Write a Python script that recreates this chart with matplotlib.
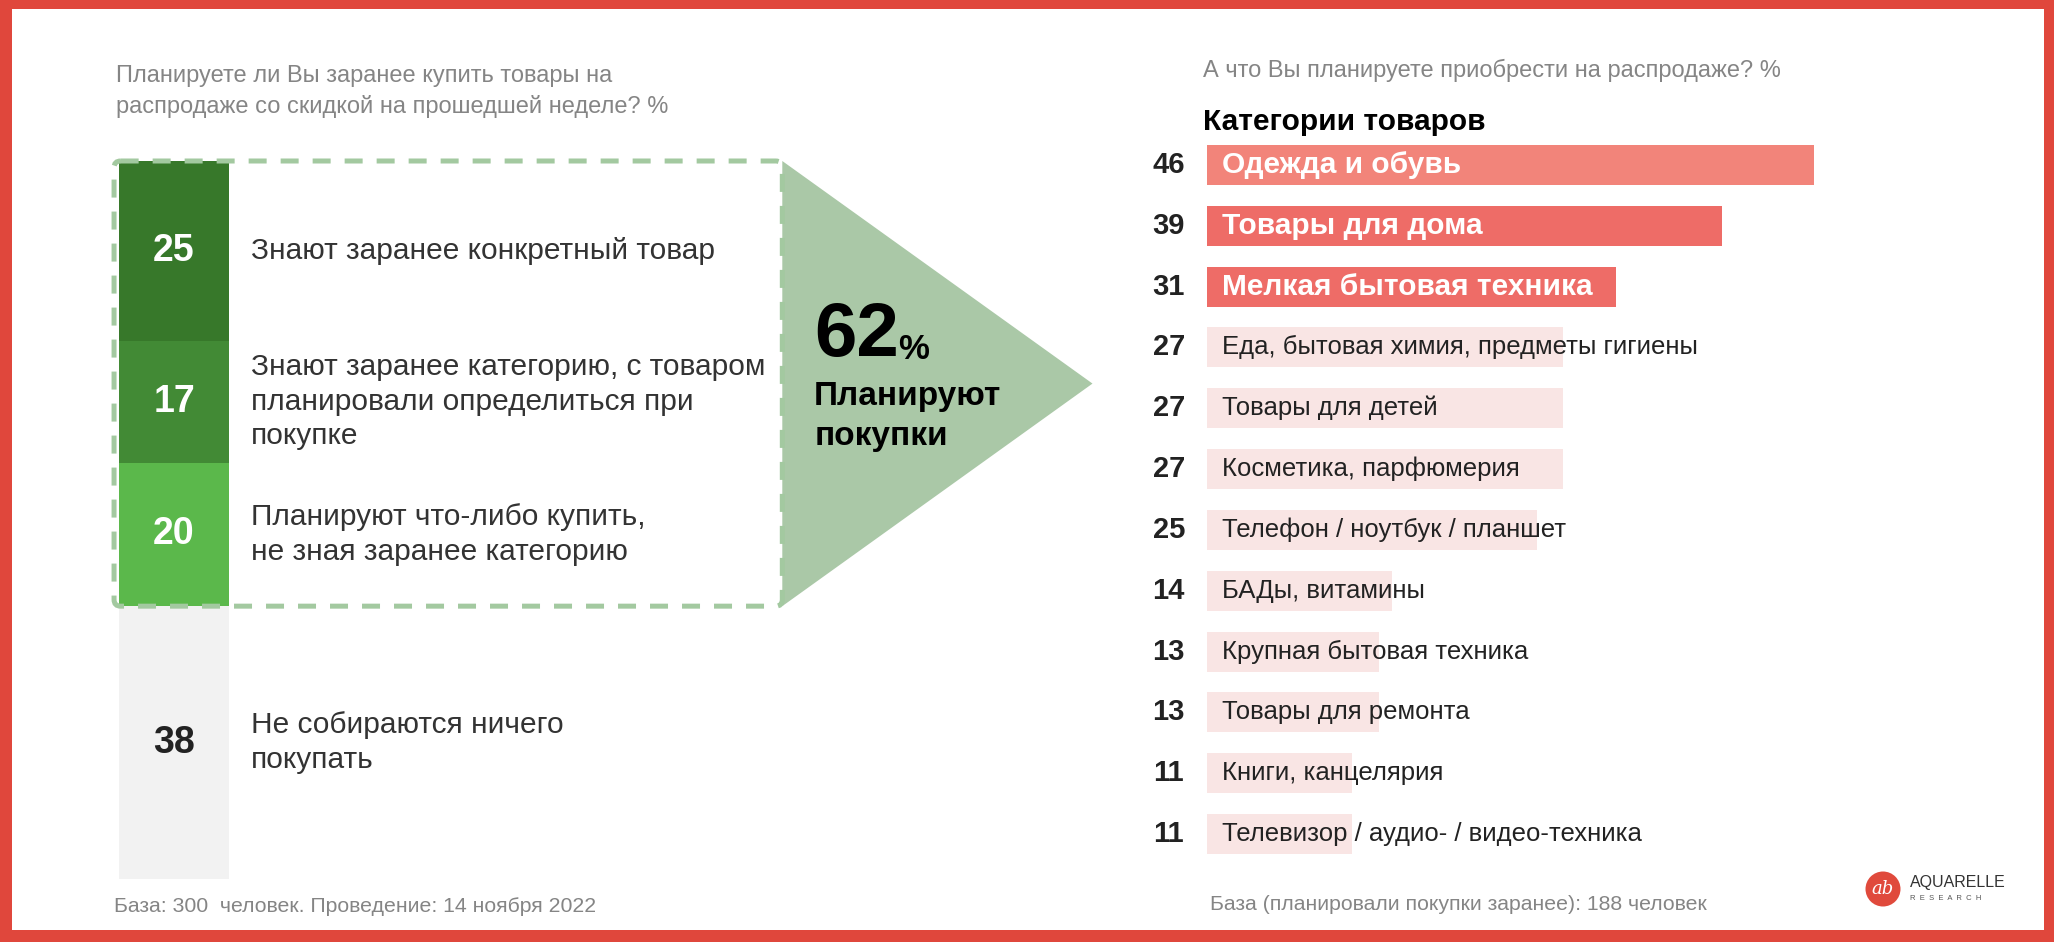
import matplotlib
matplotlib.use("Agg")
import matplotlib.pyplot as plt
from matplotlib.patches import Rectangle, FancyBboxPatch, Polygon, Circle
from matplotlib.transforms import IdentityTransform

plt.rcParams["font.family"] = ["Liberation Sans", "DejaVu Sans"]

# --- data -----------------------------------------------------------------
plan_values = [25, 17, 20, 38]
plan_labels = [
    "Знают заранее конкретный товар",
    "Знают заранее категорию, с товаром\nпланировали определиться при\nпокупке",
    "Планируют что-либо купить,\nне зная заранее категорию",
    "Не собираются ничего\nпокупать",
]
plan_colors = ["#37782a", "#428a35", "#5bb84b", "#f2f2f2"]
plan_value_colors = ["white", "white", "white", "#222222"]
n_planning = 3  # first three groups plan purchases

cat_labels = [
    "Одежда и обувь",
    "Товары для дома",
    "Мелкая бытовая техника",
    "Еда, бытовая химия, предметы гигиены",
    "Товары для детей",
    "Косметика, парфюмерия",
    "Телефон / ноутбук / планшет",
    "БАДы, витамины",
    "Крупная бытовая техника",
    "Товары для ремонта",
    "Книги, канцелярия",
    "Телевизор / аудио- / видео-техника",
]
cat_values = [46, 39, 31, 27, 27, 27, 25, 14, 13, 13, 11, 11]
n_top = 3
top_colors = ["#f2847a", "#ee6c67", "#ee6c67"]
rest_color = "#f9e5e4"

left_title = "Планируете ли Вы заранее купить товары на\nраспродаже со скидкой на прошедшей неделе? %"
right_title = "А что Вы планируете приобрести на распродаже? %"
right_header = "Категории товаров"
left_note = "База: 300  человек. Проведение: 14 ноября 2022"
right_note = "База (планировали покупки заранее): 188 человек"

W, H = 2054, 942
DPI = 100
RED = "#e0473c"
GRAY = "#858585"
DARK = "#333333"


def fx(x):
    return x / W


def fy(y):
    return 1 - y / H


fig = plt.figure(figsize=(W / DPI, H / DPI), dpi=DPI, facecolor=RED)
fig.patches.append(Rectangle((fx(12), fy(930)), fx(2044 - 12), (930 - 9) / H,
                             transform=fig.transFigure, facecolor="white",
                             edgecolor="none", zorder=-10))

# --- left: stacked column --------------------------------------------------
axl = fig.add_axes([fx(119), fy(879), fx(229 - 119), (879 - 161) / H])
axl.set_xlim(0, 1)
axl.set_ylim(sum(plan_values), 0)
axl.axis("off")

bottom = 0
for val, lab, col, vcol in zip(plan_values, plan_labels, plan_colors, plan_value_colors):
    axl.bar(0.5, val, bottom=bottom, width=1.0, color=col, edgecolor="none", zorder=2)
    mid = bottom + val / 2
    axl.text(0.5, mid, str(val), ha="center", va="center", fontsize=27,
             fontweight="bold", color=vcol, zorder=5)
    axl.text(1.2, mid, lab, ha="left", va="center", fontsize=21.5, color=DARK,
             linespacing=1.3, zorder=5)
    bottom += val

planning = sum(plan_values[:n_planning])

# dashed frame around the planning groups
box = FancyBboxPatch((-0.045, 0), 6.075, planning,
                     boxstyle="round,pad=0,rounding_size=0.06",
                     facecolor="none", edgecolor="#a3c9a0", linewidth=3.6,
                     linestyle=(0, (3.6, 2.8)), zorder=4, clip_on=False,
                     mutation_aspect=110 / 7.18)
axl.add_patch(box)

# arrow
arrow = Polygon([(6.03, 0), (8.85, planning / 2), (6.03, planning)],
                closed=True, facecolor="#aac8a7", edgecolor="none",
                zorder=3, clip_on=False)
axl.add_patch(arrow)

axl.text(6.32, 27.1, f"{planning}", ha="left", va="baseline", fontsize=55,
         fontweight="bold", color="black", zorder=6)
axl.text(7.08, 27.6, "%", ha="left", va="baseline", fontsize=25,
         fontweight="bold", color="black", zorder=6)
axl.text(6.32, 34.0, "Планируют", ha="left", va="baseline", fontsize=24,
         fontweight="bold", color="black", zorder=6)
axl.text(6.32, 39.6, "покупки", ha="left", va="baseline", fontsize=24,
         fontweight="bold", color="black", zorder=6)

fig.text(fx(116), fy(91.5), left_title, ha="left", va="center", fontsize=17,
         color=GRAY, linespacing=1.45)
fig.text(fx(114), fy(907), left_note, ha="left", va="center", fontsize=15.3,
         color=GRAY)

# --- right: horizontal bars -------------------------------------------------
px_per_unit = 13.2
axr_w = 60 * px_per_unit
axr = fig.add_axes([fx(1207), fy(864.5), fx(axr_w), (864.5 - 134.5) / H])
axr.set_xlim(0, 60)
axr.set_ylim(len(cat_values) - 0.5, -0.5)
axr.axis("off")

colors = top_colors + [rest_color] * (len(cat_values) - n_top)
ys = list(range(len(cat_values)))
axr.barh(ys, cat_values, height=0.66, color=colors, edgecolor="none", zorder=2)
for i, (val, lab) in enumerate(zip(cat_values, cat_labels)):
    axr.text(-2.9, i, str(val), ha="center", va="center", fontsize=21,
             fontweight="bold", color="#222222", clip_on=False)
    if i < n_top:
        axr.text(1.15, i, lab, ha="left", va="center", fontsize=21.5,
                 fontweight="bold", color="white", zorder=3)
    else:
        axr.text(1.15, i, lab, ha="left", va="center", fontsize=18.5,
                 color="#222222", zorder=3)

fig.text(fx(1203), fy(70), right_title, ha="left", va="center", fontsize=17,
         color=GRAY)
fig.text(fx(1203), fy(122), right_header, ha="left", va="center", fontsize=21.5,
         fontweight="bold", color="black")
fig.text(fx(1210), fy(905), right_note, ha="left", va="center", fontsize=15.3,
         color=GRAY)

# logo
fig.patches.append(Circle((1883, H - 889), 17.5, transform=IdentityTransform(),
                          facecolor="#e04a3c", edgecolor="none", zorder=5))
fig.text(fx(1883), fy(889), "ab", ha="center", va="center", fontsize=13,
         color="white", style="italic", family="DejaVu Serif", zorder=6)
fig.text(fx(1910), fy(882), "AQUARELLE", ha="left", va="center", fontsize=11.5,
         color="#333333")
fig.text(fx(1910), fy(898), "R  E  S  E  A  R  C  H", ha="left", va="center",
         fontsize=5.5, color="#555555")

fig.savefig("out.png", dpi=DPI, facecolor=RED)
